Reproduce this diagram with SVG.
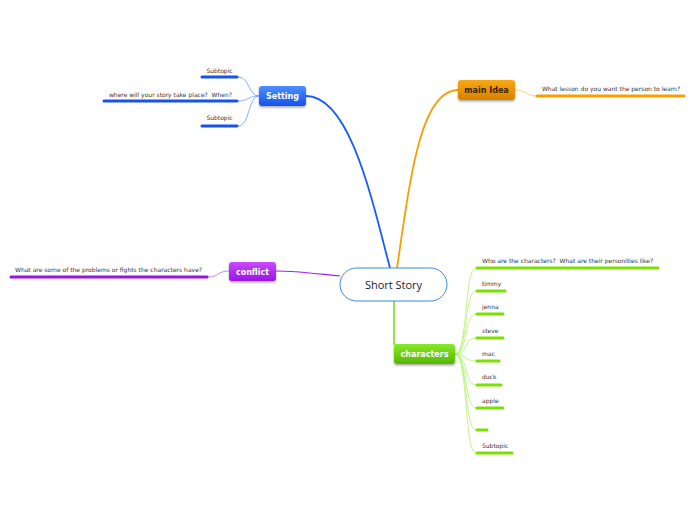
<svg xmlns="http://www.w3.org/2000/svg" width="696" height="520" viewBox="0 0 696 520">
<style>
text{white-space:pre}
.sub{font-family:"DejaVu Sans","Liberation Sans",sans-serif;font-size:6px;fill:#333}
.mt{font-family:"DejaVu Sans","Liberation Sans",sans-serif;font-size:8px;font-weight:bold;fill:#fff;text-anchor:middle}
.ul{stroke-width:3;stroke-linecap:round;fill:none}
.c{fill:none}
</style>
<defs>
<linearGradient id="gb" x1="0" y1="0" x2="0" y2="1"><stop offset="0" stop-color="#4d8fff"/><stop offset="1" stop-color="#1652ee"/></linearGradient>
<linearGradient id="go" x1="0" y1="0" x2="0" y2="1"><stop offset="0" stop-color="#f7a815"/><stop offset="1" stop-color="#d98000"/></linearGradient>
<linearGradient id="gp" x1="0" y1="0" x2="0" y2="1"><stop offset="0" stop-color="#c94cff"/><stop offset="1" stop-color="#9a12e6"/></linearGradient>
<linearGradient id="gg" x1="0" y1="0" x2="0" y2="1"><stop offset="0" stop-color="#88e82a"/><stop offset="1" stop-color="#56b800"/></linearGradient>
<filter id="sh" x="-20%" y="-20%" width="140%" height="160%"><feDropShadow dx="0" dy="1.5" stdDeviation="1" flood-color="#000" flood-opacity="0.35"/></filter>
</defs>
<rect width="696" height="520" fill="#fff"/>
<g id="connectors">
<path class="c" d="M306,96 C350,96 372,200 390,268" stroke="#1a5cff" stroke-width="1.8"/>
<path class="c" d="M397,268 C410,180 420,90 458,90" stroke="#f5a000" stroke-width="1.8"/>
<path class="c" d="M340,276 C310,273 295,271 276,271" stroke="#a020f0" stroke-width="1.2"/>
<path class="c" d="M394,301 L394,345" stroke="#8ee030" stroke-width="1.8"/>
<g stroke="#6d9cff" stroke-width="0.8" fill="none">
<path d="M259,96 C248,96 250,77 238,77"/>
<path d="M259,96 C248,96 248,101 238,101"/>
<path d="M259,96 C248,96 250,126 238,126"/>
</g>
<path d="M515,90 C526,90 526,96 536,96" stroke="#f8c070" stroke-width="0.8" fill="none"/>
<path d="M229,271 C218,271 218,277 208,277" stroke="#c060ff" stroke-width="0.8" fill="none"/>
<g stroke="#b0f070" stroke-width="0.8" fill="none">
<path d="M455,354 C468,354 464,268 476,268"/>
<path d="M455,354 C468,354 464,291 476,291"/>
<path d="M455,354 C468,354 464,314 476,314"/>
<path d="M455,354 C468,354 464,338 476,338"/>
<path d="M455,354 C468,354 464,361 476,361"/>
<path d="M455,354 C468,354 464,385 476,385"/>
<path d="M455,354 C468,354 464,408 476,408"/>
<path d="M455,354 C468,354 464,430 476,430"/>
<path d="M455,354 C468,354 464,453 476,453"/>
</g>
</g>
<g id="center">
<rect x="340" y="268" width="107" height="33" rx="16.5" fill="#fff" stroke="#3a8ad6" stroke-width="1"/>
<text x="393.5" y="289" text-anchor="middle" font-family="'Open Sans','DejaVu Sans',sans-serif" font-size="11" fill="#14213d">Short Story</text>
</g>
<g id="setting">
<rect x="259" y="86" width="47" height="20" rx="3" fill="url(#gb)" filter="url(#sh)"/>
<text class="mt" x="282.5" y="99">Setting</text>
</g>
<g id="setting-sub1">
<text class="sub" x="219.5" y="73" text-anchor="middle">Subtopic</text>
<line class="ul" x1="202" y1="77" x2="237" y2="77" stroke="#1652ee"/>
</g>
<g id="setting-sub2">
<text class="sub" x="170.5" y="97" text-anchor="middle">where will your story take place?  When?</text>
<line class="ul" x1="104" y1="101" x2="237" y2="101" stroke="#1652ee"/>
</g>
<g id="setting-sub3">
<text class="sub" x="219.5" y="120" text-anchor="middle">Subtopic</text>
<line class="ul" x1="202" y1="126" x2="237" y2="126" stroke="#1652ee"/>
</g>
<g id="mainidea">
<rect x="458" y="80" width="57" height="20" rx="3" fill="url(#go)" filter="url(#sh)"/>
<text class="mt" x="486.5" y="93" style="fill:#3a2400">main Idea</text>
</g>
<g id="mainidea-sub">
<text class="sub" x="611" y="91" text-anchor="middle">What lesson do you want the person to learn?</text>
<line class="ul" x1="537" y1="96" x2="684" y2="96" stroke="#f5a000"/>
</g>
<g id="conflict">
<rect x="229" y="262" width="47" height="19" rx="3" fill="url(#gp)" filter="url(#sh)"/>
<text class="mt" x="252.5" y="274.5">conflict</text>
</g>
<g id="conflict-sub">
<text class="sub" x="108.5" y="272" text-anchor="middle">What are some of the problems or fights the characters have?</text>
<line class="ul" x1="11" y1="277" x2="207" y2="277" stroke="#9a12e6"/>
</g>
<g id="characters">
<rect x="394" y="344" width="61" height="20" rx="3" fill="url(#gg)" filter="url(#sh)"/>
<text class="mt" x="424.5" y="357">characters</text>
</g>
<g id="char-subs">
<text class="sub" x="482" y="263">Who are the characters?  What are their personities like?</text>
<line class="ul" x1="477" y1="268" x2="658" y2="268" stroke="#7ae000"/>
<text class="sub" x="482" y="286">timmy</text>
<line class="ul" x1="477" y1="291" x2="505" y2="291" stroke="#7ae000"/>
<text class="sub" x="482" y="309">jenna</text>
<line class="ul" x1="477" y1="314" x2="503" y2="314" stroke="#7ae000"/>
<text class="sub" x="482" y="333">steve</text>
<line class="ul" x1="477" y1="338" x2="503" y2="338" stroke="#7ae000"/>
<text class="sub" x="482" y="356">mac</text>
<line class="ul" x1="477" y1="361" x2="499" y2="361" stroke="#7ae000"/>
<text class="sub" x="482" y="379">duck</text>
<line class="ul" x1="477" y1="385" x2="501" y2="385" stroke="#7ae000"/>
<text class="sub" x="482" y="403">apple</text>
<line class="ul" x1="477" y1="408" x2="503" y2="408" stroke="#7ae000"/>
<line class="ul" x1="477" y1="430" x2="487" y2="430" stroke="#7ae000"/>
<text class="sub" x="482" y="448">Subtopic</text>
<line class="ul" x1="477" y1="453" x2="512" y2="453" stroke="#7ae000"/>
</g>
</svg>
